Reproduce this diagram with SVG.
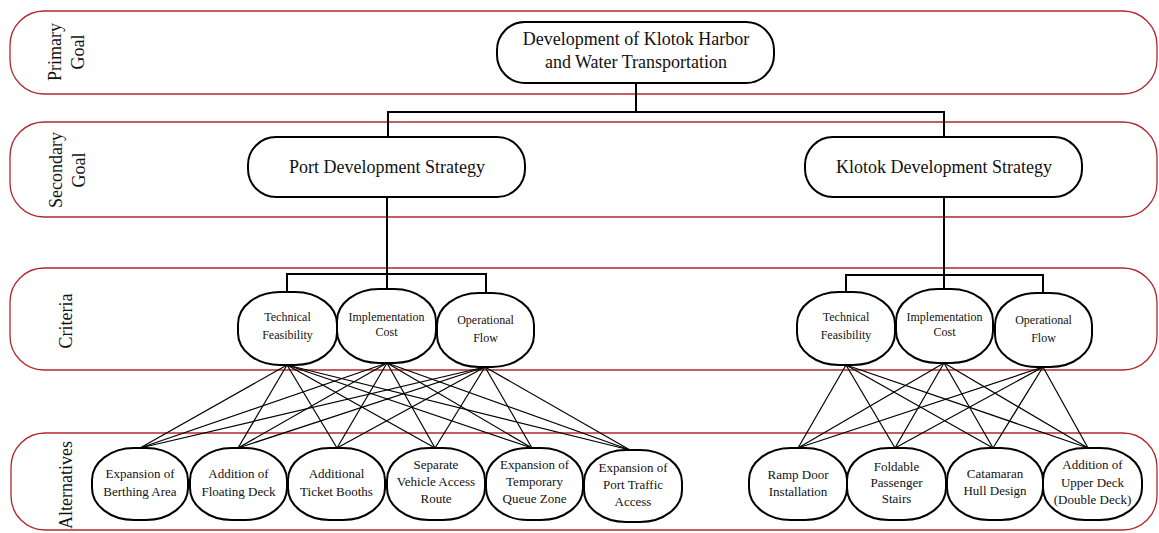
<svg xmlns="http://www.w3.org/2000/svg" width="1159" height="533" viewBox="0 0 1159 533">
<style>
.band{fill:none;stroke:#b0282c;stroke-width:1.3}
.lbl{font-family:"Liberation Serif","Times New Roman",serif;font-size:18px;fill:#111;text-anchor:middle}
.node{fill:#fff;stroke:#000;stroke-width:2}
.t18{font-family:"Liberation Serif","Times New Roman",serif;font-size:18px;fill:#111;text-anchor:middle}
.t12{font-family:"Liberation Serif","Times New Roman",serif;font-size:12px;fill:#111;text-anchor:middle}
.t13{font-family:"Liberation Serif","Times New Roman",serif;font-size:13px;fill:#111;text-anchor:middle}
.tree{fill:none;stroke:#000;stroke-width:2}
.mesh{fill:none;stroke:#000;stroke-width:1.2}
</style>
<rect width="1159" height="533" fill="#fff"/>
<g id="bands">
<rect class="band" x="10" y="11" width="1147" height="83" rx="34" ry="34"/>
<rect class="band" x="10" y="122" width="1147" height="95" rx="34" ry="34"/>
<rect class="band" x="10" y="268" width="1147" height="102" rx="34" ry="34"/>
<rect class="band" x="11" y="433" width="1146" height="97" rx="34" ry="34"/>
<text class="lbl" transform="translate(61,52) rotate(-90)">Primary</text>
<text class="lbl" transform="translate(84,52) rotate(-90)">Goal</text>
<text class="lbl" transform="translate(62,170) rotate(-90)">Secondary</text>
<text class="lbl" transform="translate(85,170) rotate(-90)">Goal</text>
<text class="lbl" transform="translate(72,321) rotate(-90)">Criteria</text>
<text class="lbl" transform="translate(72,485) rotate(-90)">Alternatives</text>
</g>
<g id="connectors">
<polyline class="tree" points="636,83 636,112"/>
<polyline class="tree" points="388,137 388,112 944,112 944,137"/>
<polyline class="tree" points="387,197 387,289"/>
<polyline class="tree" points="287,292 287,274 486,274 486,293"/>
<polyline class="tree" points="944,197 944,289"/>
<polyline class="tree" points="846,292 846,275 1043,275 1043,293"/>
<g class="mesh">
<line x1="287" y1="365" x2="140" y2="448"/><line x1="287" y1="365" x2="238" y2="448"/><line x1="287" y1="365" x2="337" y2="448"/><line x1="287" y1="365" x2="435" y2="448"/><line x1="287" y1="365" x2="532" y2="448"/><line x1="287" y1="365" x2="630" y2="450"/>
<line x1="387" y1="363" x2="140" y2="448"/><line x1="387" y1="363" x2="238" y2="448"/><line x1="387" y1="363" x2="337" y2="448"/><line x1="387" y1="363" x2="435" y2="448"/><line x1="387" y1="363" x2="532" y2="448"/><line x1="387" y1="363" x2="630" y2="450"/>
<line x1="485" y1="367" x2="140" y2="448"/><line x1="485" y1="367" x2="238" y2="448"/><line x1="485" y1="367" x2="337" y2="448"/><line x1="485" y1="367" x2="435" y2="448"/><line x1="485" y1="367" x2="532" y2="448"/><line x1="485" y1="367" x2="630" y2="450"/>
<line x1="846" y1="365" x2="798" y2="448"/><line x1="846" y1="365" x2="895" y2="448"/><line x1="846" y1="365" x2="993" y2="448"/><line x1="846" y1="365" x2="1088" y2="448"/>
<line x1="944" y1="363" x2="798" y2="448"/><line x1="944" y1="363" x2="895" y2="448"/><line x1="944" y1="363" x2="993" y2="448"/><line x1="944" y1="363" x2="1088" y2="448"/>
<line x1="1043" y1="367" x2="798" y2="448"/><line x1="1043" y1="367" x2="895" y2="448"/><line x1="1043" y1="367" x2="993" y2="448"/><line x1="1043" y1="367" x2="1088" y2="448"/>
</g>
</g>
<g id="primary">
<rect class="node" x="497" y="22" width="277" height="61" rx="28" ry="28"/>
<text class="t18" x="636" y="45">Development of Klotok Harbor</text>
<text class="t18" x="636" y="68">and Water Transportation</text>
</g>
<g id="port-strategy">
<rect class="node" x="248" y="137" width="277" height="60" rx="28" ry="28"/>
<text class="t18" x="387" y="173">Port Development Strategy</text>
</g>
<g id="klotok-strategy">
<rect class="node" x="805" y="137" width="277" height="60" rx="28" ry="28"/>
<text class="t18" x="944" y="173">Klotok Development Strategy</text>
</g>
<g id="p-tech">
<rect class="node" x="238" y="292" width="99" height="73" rx="42" ry="32"/>
<text class="t12" x="287.5" y="321">Technical</text><text class="t12" x="287.5" y="339">Feasibility</text>
</g>
<g id="p-cost">
<rect class="node" x="337" y="289" width="99" height="74" rx="42" ry="32"/>
<text class="t12" x="386.5" y="321">Implementation</text><text class="t12" x="386.5" y="336">Cost</text>
</g>
<g id="p-flow">
<rect class="node" x="437" y="293" width="97" height="74" rx="42" ry="32"/>
<text class="t12" x="485.5" y="324">Operational</text><text class="t12" x="485.5" y="342">Flow</text>
</g>
<g id="k-tech">
<rect class="node" x="797" y="292" width="98" height="73" rx="42" ry="32"/>
<text class="t12" x="846" y="321">Technical</text><text class="t12" x="846" y="339">Feasibility</text>
</g>
<g id="k-cost">
<rect class="node" x="896" y="289" width="97" height="74" rx="42" ry="32"/>
<text class="t12" x="944.5" y="321">Implementation</text><text class="t12" x="944.5" y="336">Cost</text>
</g>
<g id="k-flow">
<rect class="node" x="995" y="293" width="97" height="74" rx="42" ry="32"/>
<text class="t12" x="1043.5" y="324">Operational</text><text class="t12" x="1043.5" y="342">Flow</text>
</g>
<g id="a-berthing">
<rect class="node" x="92" y="448" width="96" height="72" rx="42" ry="32"/>
<text class="t13" x="140" y="478">Expansion of</text><text class="t13" x="140" y="496">Berthing Area</text>
</g>
<g id="a-floating">
<rect class="node" x="190" y="448" width="97" height="72" rx="42" ry="32"/>
<text class="t13" x="238.5" y="478">Addition of</text><text class="t13" x="238.5" y="496">Floating Deck</text>
</g>
<g id="a-ticket">
<rect class="node" x="288" y="448" width="97" height="72" rx="42" ry="32"/>
<text class="t13" x="336.5" y="478">Additional</text><text class="t13" x="336.5" y="496">Ticket Booths</text>
</g>
<g id="a-vehicle">
<rect class="node" x="387" y="448" width="98" height="72" rx="42" ry="32"/>
<text class="t13" x="436" y="469">Separate</text><text class="t13" x="436" y="486">Vehicle Access</text><text class="t13" x="436" y="503">Route</text>
</g>
<g id="a-queue">
<rect class="node" x="486" y="448" width="97" height="72" rx="42" ry="32"/>
<text class="t13" x="534.5" y="469">Expansion of</text><text class="t13" x="534.5" y="486">Temporary</text><text class="t13" x="534.5" y="503">Queue Zone</text>
</g>
<g id="a-traffic">
<rect class="node" x="584" y="450" width="98" height="72" rx="42" ry="32"/>
<text class="t13" x="633" y="472">Expansion of</text><text class="t13" x="633" y="489">Port Traffic</text><text class="t13" x="633" y="506">Access</text>
</g>
<g id="a-ramp">
<rect class="node" x="749" y="448" width="98" height="72" rx="42" ry="32"/>
<text class="t13" x="798" y="479">Ramp Door</text><text class="t13" x="798" y="496">Installation</text>
</g>
<g id="a-stairs">
<rect class="node" x="847" y="448" width="99" height="72" rx="42" ry="32"/>
<text class="t13" x="896.5" y="471">Foldable</text><text class="t13" x="896.5" y="487">Passenger</text><text class="t13" x="896.5" y="503">Stairs</text>
</g>
<g id="a-catamaran">
<rect class="node" x="947" y="448" width="96" height="72" rx="42" ry="32"/>
<text class="t13" x="995" y="478">Catamaran</text><text class="t13" x="995" y="495">Hull Design</text>
</g>
<g id="a-upperdeck">
<rect class="node" x="1043" y="448" width="99" height="72" rx="42" ry="32"/>
<text class="t13" x="1092.5" y="469">Addition of</text><text class="t13" x="1092.5" y="487">Upper Deck</text><text class="t13" x="1092.5" y="504">(Double Deck)</text>
</g>
</svg>
